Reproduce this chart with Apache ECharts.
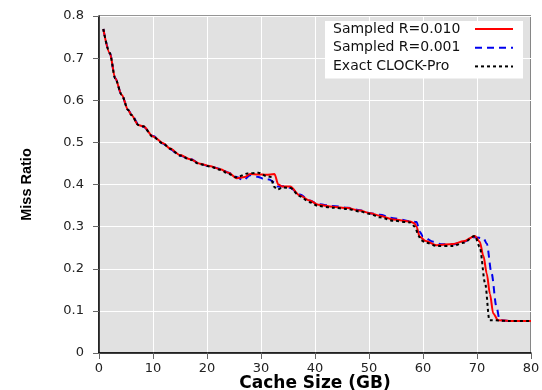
<!DOCTYPE html>
<html>
<head>
<meta charset="utf-8">
<script src="https://cdn.jsdelivr.net/npm/echarts@6/dist/echarts.min.js"></script>
<style>
html,body{margin:0;padding:0;background:#fff;}
#chart{width:542px;height:390px;}
</style>
</head>
<body>
<div id="chart"></div>
<script>
var xTicks = [0, 10, 20, 30, 40, 50, 60, 70, 80];
var yTicks = [0, 0.1, 0.2, 0.3, 0.4, 0.5, 0.6, 0.7, 0.8];

var seriesNames = ['Sampled R=0.010', 'Sampled R=0.001', 'Exact CLOCK-Pro'];

var redX = [0.8,2,3,4.2,5.4,6,7.3,8.2,10,11.9,13.1,15,16.9,18.7,20.5,22.5,24,25.5,27,28,29.5,31,32.5,33.2,34,35.4,37.2,39,40.6,43.3,46,48.3,50.2,52,54.5,57.6,58.4,58.8,59.4,60.5,62.5,65.6,67.5,69.6,70.5,71.2,71.8,72.4,73,73.9,76,80];
var redY = [0.769,0.712,0.652,0.613,0.577,0.565,0.541,0.538,0.514,0.498,0.486,0.470,0.460,0.449,0.444,0.436,0.428,0.415,0.418,0.425,0.424,0.423,0.425,0.400,0.395,0.395,0.374,0.362,0.352,0.347,0.344,0.338,0.332,0.326,0.317,0.312,0.308,0.300,0.276,0.266,0.256,0.259,0.265,0.278,0.264,0.230,0.189,0.140,0.094,0.078,0.076,0.076];

var blueX = [0.8,2,3,4.2,5.4,6,7.3,8.2,10,11.9,13.1,15,16.9,18.7,20.5,22.5,24,25.5,26.7,28,29.5,30.5,31.5,32.5,33.2,34,35.4,37.2,39,40.6,43.3,46,48.3,50.2,52,54.5,57.6,58.8,59.4,60,61.9,63.3,65.6,67.5,69.6,71.2,71.8,72.7,73.6,74.2,76,80];
var blueY = [0.769,0.712,0.652,0.613,0.577,0.567,0.543,0.537,0.515,0.497,0.484,0.468,0.461,0.449,0.443,0.437,0.428,0.418,0.410,0.422,0.418,0.413,0.412,0.405,0.395,0.396,0.392,0.376,0.362,0.353,0.349,0.345,0.339,0.332,0.328,0.320,0.313,0.311,0.288,0.276,0.264,0.258,0.258,0.264,0.275,0.272,0.260,0.189,0.110,0.078,0.076,0.076];

var blackX = [0.8,2,3,4.2,5.4,6,7.3,8.2,10,11.9,13.1,15,16.9,18.7,20.5,22.5,24,25.5,27.5,29.5,31,31.8,32.4,33,34,35.4,37.2,39,40.6,43.3,46,48.3,50.2,52,54.5,57.6,58.5,59.2,59.6,60.5,62.5,65.6,67.5,69.6,70.5,71.5,72.3,76,80];
var blackY = [0.769,0.712,0.652,0.613,0.577,0.565,0.541,0.538,0.513,0.497,0.485,0.469,0.459,0.448,0.443,0.435,0.425,0.417,0.426,0.428,0.420,0.418,0.395,0.388,0.393,0.392,0.372,0.358,0.349,0.345,0.342,0.336,0.330,0.322,0.314,0.310,0.300,0.278,0.268,0.262,0.254,0.254,0.262,0.278,0.252,0.166,0.078,0.076,0.076];

function pairs(xs, ys) {
  var out = [];
  for (var i = 0; i < xs.length; i++) out.push([xs[i], ys[i]]);
  return out;
}

var chart = echarts.init(document.getElementById('chart'), null, {renderer: 'canvas'});
var labelFont = 'DejaVu Sans';
chart.setOption({
  animation: false,
  backgroundColor: '#ffffff',
  grid: {
    left: 99, right: 11, top: 16, bottom: 37,
    containLabel: false, outerBoundsMode: 'none',
    show: true, backgroundColor: '#e1e1e1', borderColor: '#2a2a2a', borderWidth: 1
  },
  legend: {
    orient: 'vertical',
    align: 'right',
    right: 19,
    top: 21,
    backgroundColor: '#ffffff',
    padding: [1, 9, 5, 8],
    itemGap: 4.7,
    itemWidth: 38,
    itemHeight: 12,
    itemStyle: {opacity: 0, borderWidth: 0},
    formatter: function (name) { return '{t|' + name + '}'; },
    textStyle: {
      fontFamily: labelFont, fontSize: 14, color: '#111', lineHeight: 12,
      rich: {t: {fontFamily: labelFont, fontSize: 14, color: '#111', width: 137, align: 'left', lineHeight: 12}}
    },
    data: [seriesNames[0], seriesNames[1], seriesNames[2]]
  },
  xAxis: {
    type: 'value', min: xTicks[0], max: xTicks[xTicks.length - 1], interval: 10,
    name: 'Cache Size (GB)', nameLocation: 'middle', nameGap: 22, nameMoveOverlap: false,
    nameTextStyle: {fontFamily: labelFont, fontWeight: 'bold', fontSize: 17, color: '#000'},
    axisLine: {show: true, onZero: false, lineStyle: {color: '#000', width: 1.5}},
    axisTick: {show: true, length: 6, lineStyle: {color: '#666'}},
    axisLabel: {fontFamily: labelFont, fontSize: 13, color: '#222', margin: 9},
    splitLine: {show: true, lineStyle: {color: '#ffffff', width: 1}}
  },
  yAxis: {
    type: 'value', min: yTicks[0], max: yTicks[yTicks.length - 1], interval: 0.1,
    name: 'Miss Ratio', nameLocation: 'middle', nameGap: 65, nameRotate: 90,
    nameTextStyle: {fontFamily: 'Liberation Sans', fontWeight: 'bold', fontSize: 14.5, color: '#000'},
    axisLine: {show: true, onZero: false, lineStyle: {color: '#000', width: 1.5}},
    axisTick: {show: true, length: 6, lineStyle: {color: '#666'}},
    axisLabel: {fontFamily: labelFont, fontSize: 13, color: '#222', margin: 15,
      formatter: function (v) { return v === 0 ? '0' : v.toFixed(1); }},
    splitLine: {show: true, lineStyle: {color: '#ffffff', width: 1}}
  },
  series: [
    {
      name: seriesNames[1], type: 'line', data: pairs(blueX, blueY),
      symbol: 'none', showSymbol: false, smooth: 0.3, smoothMonotone: 'x', z: 2,
      lineStyle: {color: '#0000ee', width: 2, type: [7, 5]}, itemStyle: {color: '#0000ee'}
    },
    {
      name: seriesNames[0], type: 'line', data: pairs(redX, redY),
      symbol: 'none', showSymbol: false, smooth: 0.3, smoothMonotone: 'x', z: 3,
      lineStyle: {color: '#ff0000', width: 2}, itemStyle: {color: '#ff0000'}
    },
    {
      name: seriesNames[2], type: 'line', data: pairs(blackX, blackY),
      symbol: 'none', showSymbol: false, smooth: 0.3, smoothMonotone: 'x', z: 4,
      lineStyle: {color: '#000000', width: 2, type: [3, 3]}, itemStyle: {color: '#000000'}
    }
  ]
});
</script>
</body>
</html>
